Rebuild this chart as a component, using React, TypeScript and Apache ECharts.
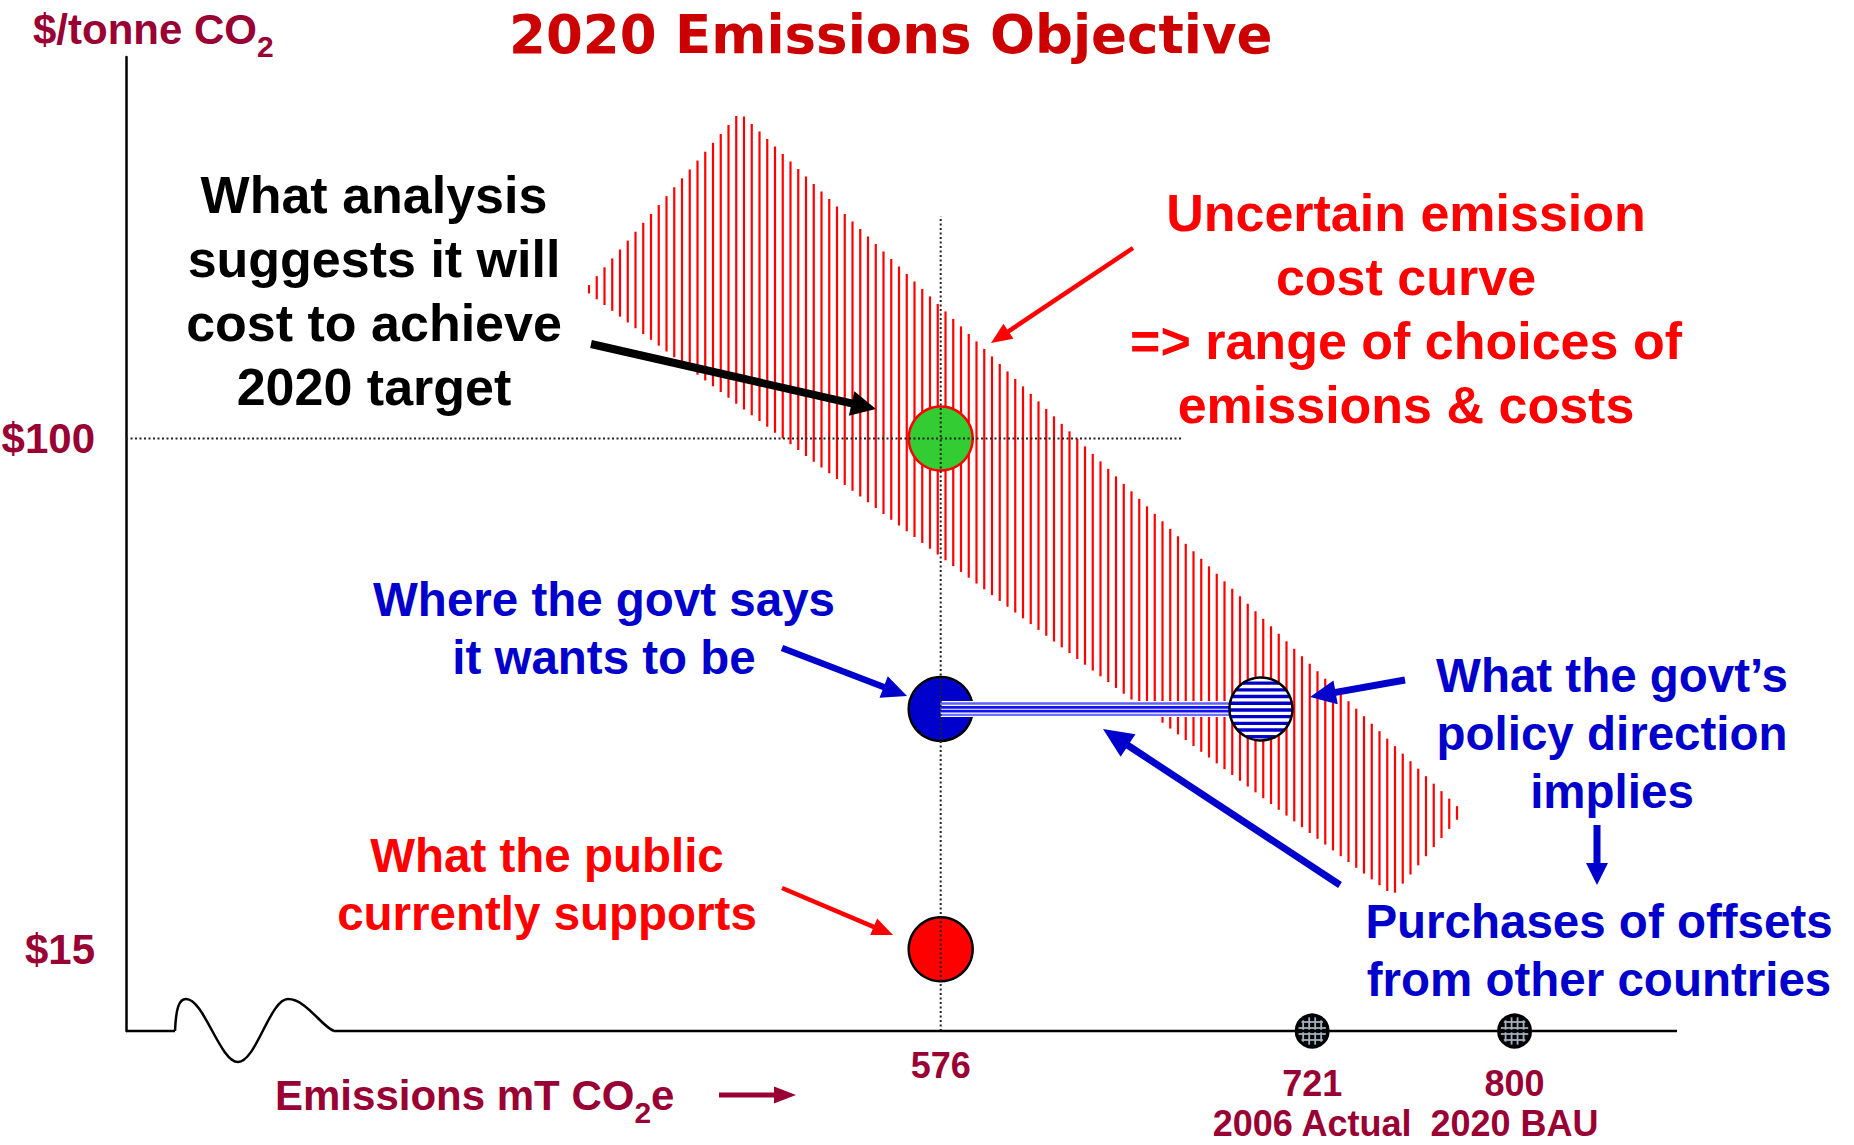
import React, { useEffect, useRef } from "react";
import * as echarts from "echarts";

// ---------- data ----------
const X_MIN = 258;
const X_MAX = 863.4;
const Y_MIN = 1.4;
const Y_MAX = 163.5;

const xTickValues = [576];
const yTickValues = [15, 100];

const pointNames = [
  "What analysis suggests it will cost",
  "Where the govt says it wants to be",
  "What the public currently supports",
];
const pointEmissions = [576, 576, 576];
const pointCosts = [100, 55, 15];

const impliedEmissions = [701];
const impliedCosts = [55];

const refNames = ["2006 Actual", "2020 BAU"];
const refEmissions = [721, 800];

// uncertain emission cost curve band (corners: emissions, $/tonne)
const bandEmissions = [437, 497.5, 780, 752.5];
const bandCosts = [124.7, 154.3, 37.8, 24];

const guideTopCost = 137;
const guideRightEmission = 670;

// ---------- styles ----------
const MAROON = "#990033";
const RED = "#FF0000";
const BLUE = "#0000CC";
const FONT = '"Liberation Sans", Arial, Helvetica, sans-serif';

type P = [number, number];

function arrow(t: P, p: P, w: number, L: number, H: number, color: string) {
  const dx = p[0] - t[0];
  const dy = p[1] - t[1];
  const len = Math.hypot(dx, dy);
  const ux = dx / len;
  const uy = dy / len;
  const nx = -uy;
  const ny = ux;
  const bx = p[0] - ux * L;
  const by = p[1] - uy * L;
  const pts = [
    [t[0] + (nx * w) / 2, t[1] + (ny * w) / 2],
    [bx + (nx * w) / 2, by + (ny * w) / 2],
    [bx + (nx * H) / 2, by + (ny * H) / 2],
    [p[0], p[1]],
    [bx - (nx * H) / 2, by - (ny * H) / 2],
    [bx - (nx * w) / 2, by - (ny * w) / 2],
    [t[0] - (nx * w) / 2, t[1] - (ny * w) / 2],
  ];
  return { type: "polygon", z: 100, silent: true, shape: { points: pts }, style: { fill: color } };
}

function textBlock(x: number, y: number, text: string, color: string, size: number, lh: number) {
  return {
    type: "text",
    z: 100,
    x,
    y,
    style: {
      text,
      fill: color,
      font: `bold ${size}px ${FONT}`,
      lineHeight: lh,
      align: "center",
      verticalAlign: "top",
    },
  };
}

const subRich = {
  m: { fill: MAROON, fontSize: 42, fontWeight: "bold", fontFamily: FONT },
  s: { fill: MAROON, fontSize: 30, fontWeight: "bold", fontFamily: FONT, padding: [34, 0, 0, 0], lineHeight: 20 },
};

export default function App() {
  const ref = useRef<HTMLDivElement>(null);

  useEffect(() => {
    if (!ref.current) return;
    const chart = echarts.init(ref.current, null, { renderer: "svg" });

    const bandData = [bandEmissions.flatMap((e, i) => [e, bandCosts[i]])];

    const option: any = {
      animation: false,
      backgroundColor: "#ffffff",
      title: {
        text: "2020 Emissions Objective",
        left: 504,
        top: 3,
        textStyle: { fontSize: 53, fontWeight: "bold", fontFamily: '"DejaVu Sans", Verdana, sans-serif', color: "#CC0000" },
      },
      grid: { left: 126, right: 177, top: 57, bottom: 114, outerBoundsMode: "none" },
      xAxis: {
        type: "value",
        min: X_MIN,
        max: X_MAX,
        axisLine: { show: false },
        axisTick: { show: false },
        splitLine: { show: false },
        axisLabel: {
          customValues: xTickValues,
          margin: 16,
          color: MAROON,
          fontSize: 36,
          fontWeight: "bold",
          fontFamily: FONT,
        },
      },
      yAxis: {
        type: "value",
        min: Y_MIN,
        max: Y_MAX,
        axisLine: { show: true, onZero: false, lineStyle: { color: "#000", width: 2.5 } },
        axisTick: { show: false },
        splitLine: { show: false },
        axisLabel: {
          customValues: yTickValues,
          formatter: (v: number) => "$" + v,
          margin: 31,
          color: MAROON,
          fontSize: 42,
          fontWeight: "bold",
          fontFamily: FONT,
        },
      },
      series: [
        {
          type: "custom",
          name: "Uncertain emission cost curve",
          z: 1,
          silent: true,
          data: bandData,
          renderItem: (_params: any, api: any) => {
            const pts = [0, 1, 2, 3].map((i) => api.coord([api.value(i * 2), api.value(i * 2 + 1)]));
            const xs = pts.map((p: number[]) => p[0]);
            const minX = Math.min(...xs);
            const maxX = Math.max(...xs);
            const SP = 7.75;
            const children: any[] = [];
            for (let x = Math.ceil(minX / SP) * SP; x <= maxX; x += SP) {
              const ys: number[] = [];
              for (let k = 0; k < 4; k++) {
                const a = pts[k];
                const b = pts[(k + 1) % 4];
                if (a[0] !== b[0] && (a[0] - x) * (b[0] - x) <= 0) {
                  const t = (x - a[0]) / (b[0] - a[0]);
                  ys.push(a[1] + t * (b[1] - a[1]));
                }
              }
              if (ys.length >= 2) {
                children.push({
                  type: "line",
                  shape: { x1: x, y1: Math.min(...ys), x2: x, y2: Math.max(...ys) },
                  style: { stroke: RED, lineWidth: 2.2 },
                });
              }
            }
            return { type: "group", children };
          },
        },
        {
          type: "scatter",
          name: "Targets",
          z: 3,
          silent: true,
          symbol: "circle",
          symbolSize: 64,
          data: pointEmissions.map((e, i) => ({
            name: pointNames[i],
            value: [e, pointCosts[i]],
            itemStyle:
              i === 0
                ? { color: "#33CC33", borderColor: RED, borderWidth: 2.5, opacity: 1 }
                : i === 1
                ? { color: BLUE, borderColor: "#000", borderWidth: 2.5, opacity: 1 }
                : { color: RED, borderColor: "#000", borderWidth: 2.5, opacity: 1 },
          })),
        },
        {
          type: "custom",
          name: "Offsets gap",
          z: 4,
          silent: true,
          data: [[pointEmissions[1], pointCosts[1], impliedEmissions[0]]],
          renderItem: (_params: any, api: any) => {
            const a = api.coord([api.value(0), api.value(1)]);
            const b = api.coord([api.value(2), api.value(1)]);
            const y = a[1];
            const lines = [
              { o: -5.5, c: "#6060FF", w: 2.4 },
              { o: -1.6, c: "#1010F0", w: 2.8 },
              { o: 2.2, c: "#1010F0", w: 2.8 },
              { o: 6, c: "#7070FF", w: 2.2 },
            ];
            return {
              type: "group",
              children: [
                { type: "rect", shape: { x: a[0], y: y - 8, width: b[0] - a[0], height: 16 }, style: { fill: "#fff" } },
                ...lines.map((l) => ({
                  type: "line",
                  shape: { x1: a[0], y1: y + l.o, x2: b[0], y2: y + l.o },
                  style: { stroke: l.c, lineWidth: l.w },
                })),
              ],
            };
          },
        },
        {
          type: "custom",
          name: "What the govt's policy direction implies",
          z: 5,
          silent: true,
          data: impliedEmissions.map((e, i) => [e, impliedCosts[i]]),
          renderItem: (_params: any, api: any) => {
            const c = api.coord([api.value(0), api.value(1)]);
            const r = 31.5;
            const children: any[] = [{ type: "circle", shape: { cx: c[0], cy: c[1], r }, style: { fill: "#fff" } }];
            for (let k = -4; k <= 4; k++) {
              const dy = k * 6.7 + 1;
              if (Math.abs(dy) >= r) continue;
              const h = Math.sqrt(r * r - dy * dy);
              children.push({
                type: "line",
                shape: { x1: c[0] - h, y1: c[1] + dy, x2: c[0] + h, y2: c[1] + dy },
                style: { stroke: BLUE, lineWidth: 3.4 },
              });
            }
            children.push({ type: "circle", shape: { cx: c[0], cy: c[1], r }, style: { fill: "none", stroke: "#000", lineWidth: 2.5 } });
            return { type: "group", children };
          },
        },
        {
          type: "custom",
          name: "Reference emissions",
          z: 5,
          silent: true,
          data: refEmissions.map((e) => [e, Y_MIN]),
          renderItem: (params: any, api: any) => {
            const c = api.coord([api.value(0), api.value(1)]);
            const e = api.value(0);
            const r = 16.5;
            const children: any[] = [
              { type: "circle", shape: { cx: c[0], cy: c[1], r }, style: { fill: "#050505" } },
            ];
            for (const o of [-9, -3, 3, 9]) {
              const h = Math.sqrt(Math.max(0, (r - 2.5) * (r - 2.5) - o * o));
              children.push({
                type: "line",
                shape: { x1: c[0] + o, y1: c[1] - h, x2: c[0] + o, y2: c[1] + h },
                style: { stroke: "#A4AEBE", lineWidth: 1.8 },
              });
              children.push({
                type: "line",
                shape: { x1: c[0] - h, y1: c[1] + o, x2: c[0] + h, y2: c[1] + o },
                style: { stroke: "#A4AEBE", lineWidth: 1.8 },
              });
            }
            children.push({ type: "circle", shape: { cx: c[0], cy: c[1], r }, style: { fill: "none", stroke: "#000", lineWidth: 2 } });
            children.push({
              type: "text",
              x: c[0],
              y: c[1] + 32,
              style: {
                text: `${e}\n${refNames[params.dataIndex]}`,
                fill: MAROON,
                font: `bold 36px ${FONT}`,
                lineHeight: 40,
                align: "center",
                verticalAlign: "top",
              },
            });
            return { type: "group", children };
          },
        },
        {
          type: "line",
          name: "Target emissions guide",
          z: 10,
          silent: true,
          symbol: "none",
          lineStyle: { color: "#222", width: 2, type: [2, 2.5] },
          data: [
            [pointEmissions[0], Y_MIN],
            [pointEmissions[0], guideTopCost],
          ],
        },
        {
          type: "line",
          name: "Analysis cost guide",
          z: 10,
          silent: true,
          symbol: "none",
          lineStyle: { color: "#222", width: 2, type: [2, 2.5] },
          data: [
            [X_MIN, pointCosts[0]],
            [guideRightEmission, pointCosts[0]],
          ],
        },
      ],
      graphic: [
        // x axis baseline with break wave
        { type: "line", z: 100, shape: { x1: 126, y1: 1031, x2: 175, y2: 1031 }, style: { stroke: "#000", lineWidth: 2.5 } },
        { type: "bezierCurve", z: 100, shape: { x1: 175, y1: 1031, cpx1: 176, cpy1: 1008, cpx2: 179, cpy2: 999, x2: 186, y2: 999 }, style: { stroke: "#000", lineWidth: 2.5, fill: "none" } },
        { type: "bezierCurve", z: 100, shape: { x1: 186, y1: 999, cpx1: 204, cpy1: 999, cpx2: 220, cpy2: 1062, x2: 238, y2: 1062 }, style: { stroke: "#000", lineWidth: 2.5, fill: "none" } },
        { type: "bezierCurve", z: 100, shape: { x1: 238, y1: 1062, cpx1: 256, cpy1: 1062, cpx2: 270, cpy2: 999, x2: 288, y2: 999 }, style: { stroke: "#000", lineWidth: 2.5, fill: "none" } },
        { type: "bezierCurve", z: 100, shape: { x1: 288, y1: 999, cpx1: 306, cpy1: 999, cpx2: 322, cpy2: 1027, x2: 334, y2: 1031 }, style: { stroke: "#000", lineWidth: 2.5, fill: "none" } },
        { type: "line", z: 100, shape: { x1: 334, y1: 1031, x2: 1677, y2: 1031 }, style: { stroke: "#000", lineWidth: 2.5 } },

        // axis names
        {
          type: "text",
          z: 100,
          x: 33,
          y: 29,
          style: { text: "{m|$/tonne CO}{s|2}", verticalAlign: "middle", align: "left", rich: subRich },
        },
        {
          type: "text",
          z: 100,
          x: 275,
          y: 1095,
          style: { text: "{m|Emissions mT CO}{s|2}{m|e}", verticalAlign: "middle", align: "left", rich: subRich },
        },
        arrow([719, 1095], [796, 1095], 5, 22, 17, MAROON),

        // annotations
        textBlock(374, 163, "What analysis\nsuggests it will\ncost to achieve\n2020 target", "#000", 52, 64),
        textBlock(1406, 181, "Uncertain emission\ncost curve\n=> range of choices of\nemissions & costs", RED, 52, 64),
        textBlock(604, 570, "Where the govt says\nit wants to be", BLUE, 47.5, 58),
        textBlock(547, 826, "What the public\ncurrently supports", RED, 47.5, 58),
        textBlock(1612, 646, "What the govt\u2019s\npolicy direction\nimplies", BLUE, 47.5, 58),
        textBlock(1599, 892, "Purchases of offsets\nfrom other countries", BLUE, 47.5, 58),

        arrow([591, 344], [876, 409], 8, 25, 25, "#000"),
        arrow([1133, 248], [991, 343], 4.5, 21, 18, RED),
        arrow([782, 648], [907, 696], 6.5, 25, 23, BLUE),
        arrow([782, 888], [893, 935], 4.5, 21, 18, RED),
        arrow([1405, 680], [1310, 697], 7, 26, 24, BLUE),
        arrow([1340, 885], [1103, 729], 7, 30, 27, BLUE),
        arrow([1597, 825], [1597, 885], 7, 22, 22, BLUE),
      ],
    };

    chart.setOption(option);
    return () => chart.dispose();
  }, []);

  return (
    <div
      ref={ref}
      style={{ position: "absolute", left: 0, top: 0, width: 1854, height: 1145, background: "#fff" }}
    />
  );
}
